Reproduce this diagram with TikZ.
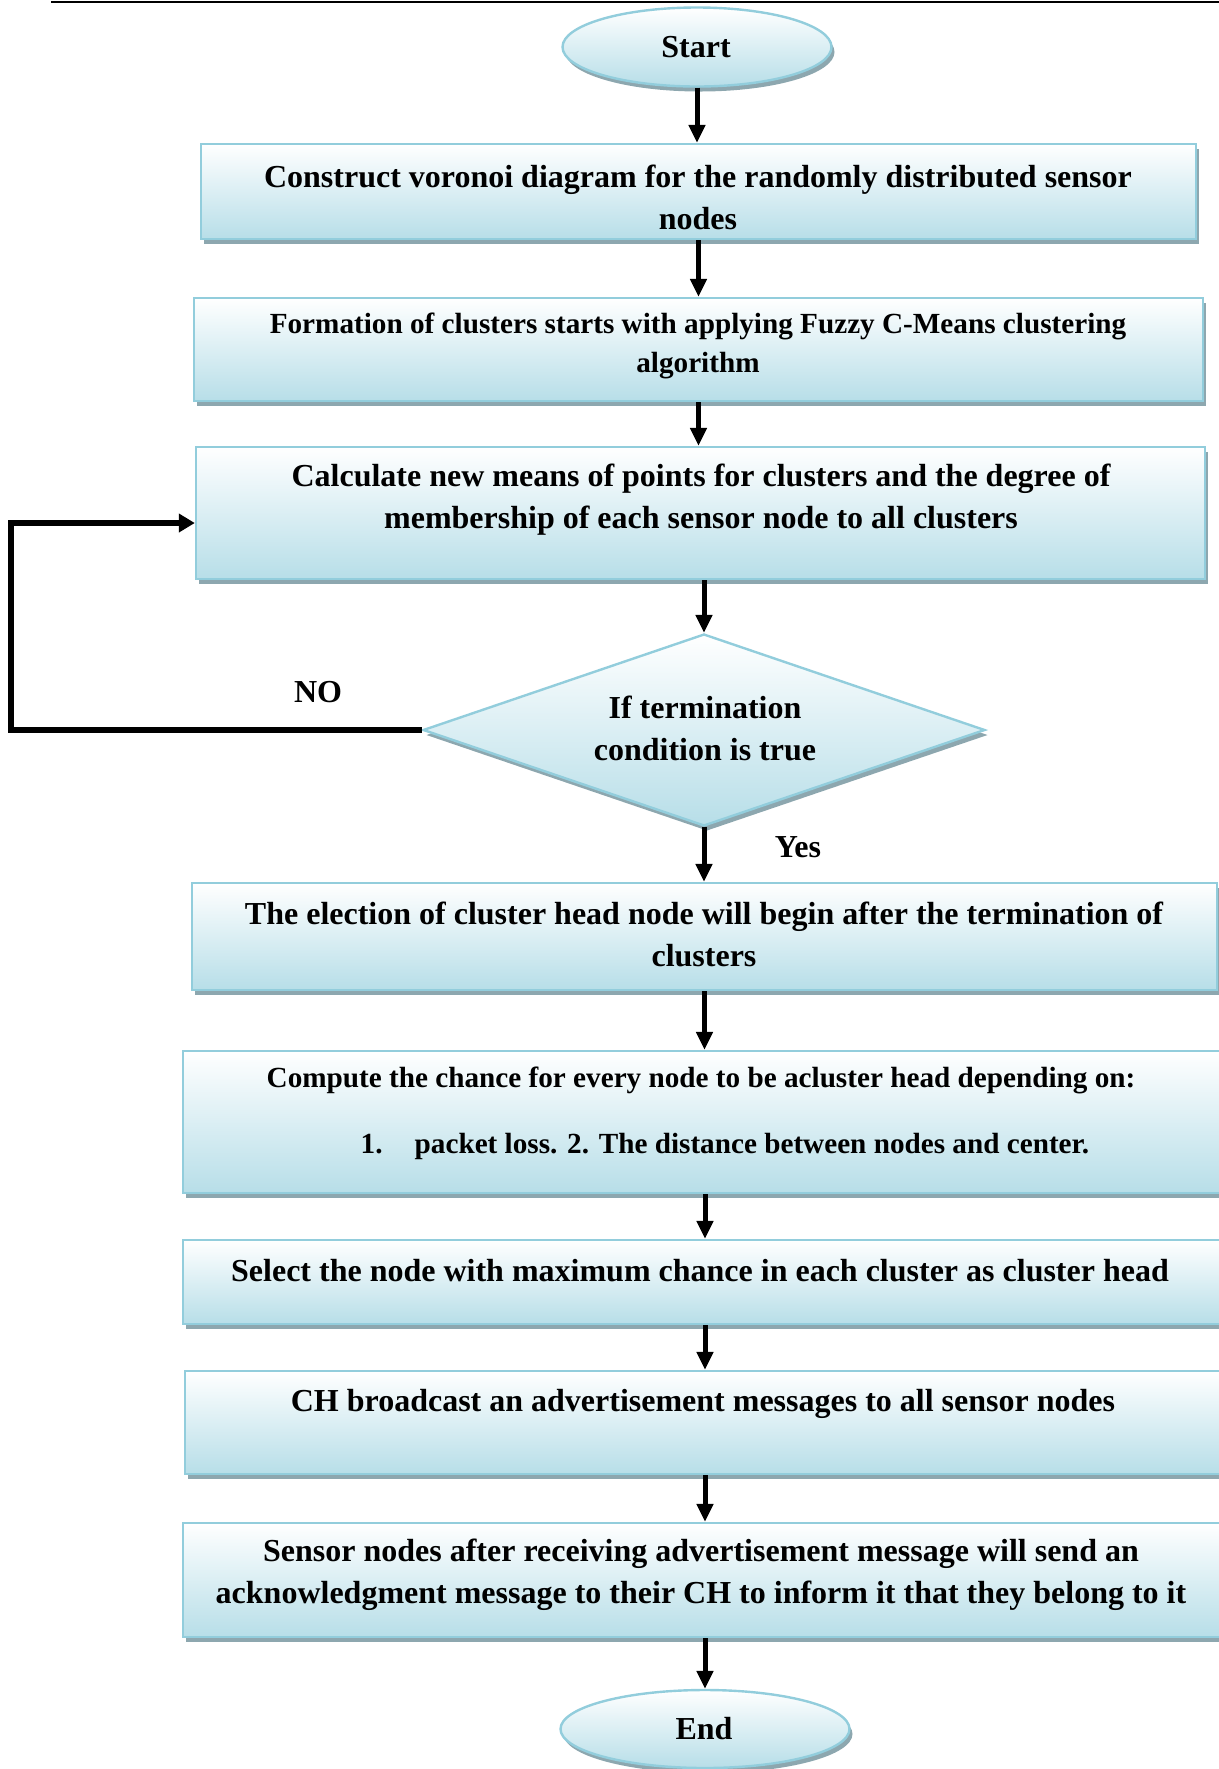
\documentclass[tikz,border=0pt]{standalone}
\usepackage{fontspec}
\setmainfont{Liberation Serif}
\usetikzlibrary{shapes.geometric,arrows.meta,shadows}

\definecolor{edgeblue}{HTML}{92CDDC}
\definecolor{fillblue}{HTML}{B7DEE8}
\definecolor{shadowgray}{HTML}{8DA7AF}

\tikzset{
  softshadow/.style={drop shadow={shadow xshift=1.5pt, shadow yshift=-2.5pt, fill=shadowgray, opacity=1}},
  procbox/.style={rectangle, draw=edgeblue, line width=1.2pt, top color=white,
    bottom color=fillblue, softshadow, inner sep=0pt},
  terminal/.style={ellipse, draw=edgeblue, line width=1.2pt, top color=white,
    bottom color=fillblue, softshadow, inner sep=0pt},
  decision/.style={diamond, draw=edgeblue, line width=1.2pt, top color=white,
    bottom color=fillblue, softshadow, inner sep=0pt},
  txt/.style={font=\bfseries\fontsize{16}{21}\selectfont, align=center, inner sep=0pt},
  smalltxt/.style={font=\bfseries\fontsize{14.6}{19.5}\selectfont, align=center, inner sep=0pt},
  flow/.style={line width=2.5pt, -{Triangle[length=9pt,width=8pt]}},
  backflow/.style={line width=3pt, -{Triangle[length=8pt,width=9pt]}}
}

\begin{document}
\begin{tikzpicture}[x=0.5pt,y=-0.5pt]
\useasboundingbox (0,0) rectangle (1219,1769);

% rule at the top of the page
\draw[line width=1pt] (51,2) -- (1219,2);

% shapes
\node[terminal, minimum width=134.5pt, minimum height=39.5pt] (start) at (697,47) {};
\node[procbox, minimum width=497.5pt, minimum height=47.5pt] (b1) at (698.5,191.5) {};
\node[procbox, minimum width=504.5pt, minimum height=51.5pt] (b2) at (698.5,349.5) {};
\node[procbox, minimum width=504.5pt, minimum height=66pt] (b3) at (700.5,513) {};
\node[decision, minimum width=281pt, minimum height=96pt] (dia) at (704,730) {};
\node[procbox, minimum width=512.5pt, minimum height=53.5pt] (b4) at (704.5,936.5) {};
\node[procbox, minimum width=522pt, minimum height=71pt] (b5) at (705,1122) {};
\node[procbox, minimum width=522pt, minimum height=42pt] (b6) at (705,1282) {};
\node[procbox, minimum width=520pt, minimum height=51.5pt] (b7) at (705,1422.5) {};
\node[procbox, minimum width=522pt, minimum height=57pt] (b8) at (705,1580) {};
\node[terminal, minimum width=144.5pt, minimum height=39pt] (end) at (705,1729) {};

% texts
\node[txt] (tstart) at (696,47) {Start};
\node[txt] (t1) at (698,197) {Construct voronoi diagram for the randomly distributed sensor\\nodes};
\node[smalltxt] (t2) at (698,346) {Formation of clusters starts with applying Fuzzy C-Means clustering\\algorithm};
\node[txt] (t3) at (701,499.5) {Calculate new means of points for clusters and the degree of\\membership of each sensor node to all clusters};
\node[txt] (tdia) at (705,728) {If termination\\condition is true};
\node[txt] (t4) at (704,934.5) {The election of cluster head node will begin after the termination of\\clusters};
\node[smalltxt] (t5a) at (701,1080) {Compute the chance for every node to be acluster head depending on:};
\node[smalltxt] (t5b) at (725,1146) {1.\hspace{1.1em}packet loss. 2. The distance between nodes and center.};
\node[txt] (t6) at (700,1271) {Select the node with maximum chance in each cluster as cluster head};
\node[txt] (t7) at (703,1404) {CH broadcast an advertisement messages to all sensor nodes};
\node[txt] (t8) at (701,1575) {Sensor nodes after receiving advertisement message will send an\\acknowledgment message to their CH to inform it that they belong to it};
\node[txt] (tend) at (704,1729) {End};
\node[txt] (tno) at (318,692) {NO};
\node[txt] (tyes) at (798,847) {Yes};

% connectors
\draw[flow] (start.south) -- (start.south |- b1.north);
\draw[flow] (b1.south) -- (b1.south |- b2.north);
\draw[flow] (b2.south) -- (b2.south |- b3.north);
\draw[flow] (dia.north |- b3.south) -- (dia.north);
\draw[flow] (dia.south) -- (dia.south |- b4.north);
\draw[flow] (b4.south) -- (b4.south |- b5.north);
\draw[flow] (b5.south) -- (b5.south |- b6.north);
\draw[flow] (b6.south) -- (b6.south |- b7.north);
\draw[flow] (b7.south) -- (b7.south |- b8.north);
\draw[flow] (b8.south) -- (b8.south |- end.north);

% loop back when the condition fails
\coordinate (loopcorner) at (11,523);
\draw[backflow] (dia.west) -| (loopcorner) -- (loopcorner -| b3.west);
\end{tikzpicture}
\end{document}
